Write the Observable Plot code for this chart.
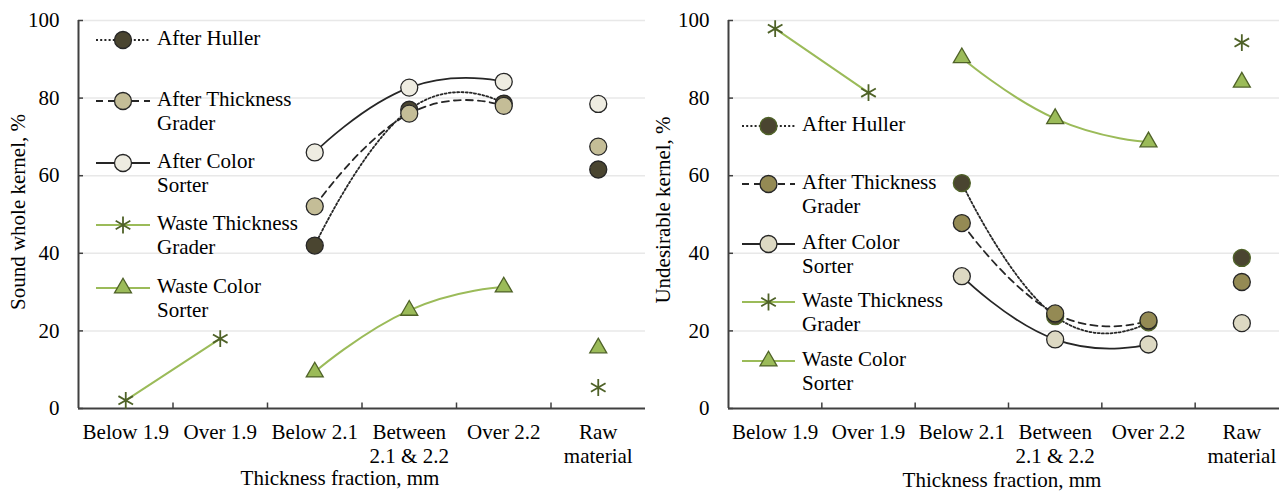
<!DOCTYPE html>
<html>
<head>
<meta charset="utf-8">
<script src="https://cdn.jsdelivr.net/npm/d3@7"></script>
<script src="https://cdn.jsdelivr.net/npm/@observablehq/plot@0.6"></script>
<style>
  html, body { margin: 0; padding: 0; background: #fff; overflow: hidden; }
  #wrap { position: relative; width: 1279px; height: 493px; overflow: hidden; }
  #left, #right { position: absolute; top: 0; width: 645px; height: 493px; }
  #left { left: 0; }
  #right { left: 645px; }
  svg { font-family: "Liberation Serif", "Times New Roman", serif; max-width: none !important; }
</style>
</head>
<body>
<div id="wrap"><div id="left"></div><div id="right"></div></div>
<script>
// ---------- data ----------
const categories = ["Below 1.9", "Over 1.9", "Below 2.1", "Between\n2.1 & 2.2", "Over 2.2", "Raw\nmaterial"];
const yTicks = [0, 20, 40, 60, 80, 100];
const seriesNames = ["After Huller", "After Thickness\nGrader", "After Color\nSorter", "Waste Thickness\nGrader", "Waste Color\nSorter"];
const xTitle = "Thickness fraction, mm";
const leftYTitle = "Sound whole kernel, %";
const rightYTitle = "Undesirable kernel, %";

// Sound whole kernel, %
const soundAfterHuller     = [null, null, 42.0, 77.0, 78.6, 61.6];
const soundAfterThickness  = [null, null, 52.1, 76.0, 78.0, 67.5];
const soundAfterColor      = [null, null, 66.0, 82.7, 84.2, 78.5];
const soundWasteThickness  = [2.1, 18.0, null, null, null, 5.4];
const soundWasteColor      = [null, null, 9.4, 25.3, 31.3, 15.6];

// Undesirable kernel, %
const undesAfterHuller     = [null, null, 58.1, 23.8, 22.2, 38.8];
const undesAfterThickness  = [null, null, 47.8, 24.5, 22.7, 32.6];
const undesAfterColor      = [null, null, 34.1, 17.8, 16.5, 22.0];
const undesWasteThickness  = [97.9, 81.4, null, null, null, 94.3];
const undesWasteColor      = [null, null, 90.4, 74.7, 68.7, 84.1];

// ---------- styles ----------
const FS = 21;
const lineDark = "#262626";
const wasteLine = "#9bbb59";
const wasteStroke = "#4f6228";
const styleDefs = [
  {dash: "2,2.2", line: lineDark, symbol: "circle", r: 8.5},
  {dash: "7,5",   line: lineDark, symbol: "circle", r: 8.5},
  {dash: null,    line: lineDark, symbol: "circle", r: 8.5},
  {dash: null,    line: wasteLine, symbol: "asterisk", r: 8},
  {dash: null,    line: wasteLine, symbol: "triangle", r: 6.3}
];
const leftMarker = [
  {fill: "#4a4530", stroke: lineDark},
  {fill: "#c4bd97", stroke: lineDark},
  {fill: "#eeece1", stroke: lineDark},
  {fill: "none", stroke: wasteStroke},
  {fill: "#9bbb59", stroke: wasteStroke}
];
const rightMarker = [
  {fill: "#4a4530", stroke: "#4f6228"},
  {fill: "#948a54", stroke: lineDark},
  {fill: "#ddd9c3", stroke: lineDark},
  {fill: "none", stroke: wasteStroke},
  {fill: "#9bbb59", stroke: wasteStroke}
];

function pts(vals, maxIdx) {
  return vals.slice(0, maxIdx).map((v, i) => ({x: i + 0.5, y: v == null ? NaN : v}));
}

function makePanel({series, markers, ml, mr, yTitle, yTitleX, yTitleY, xTitleX, xTitleY, legend}) {
  const W = 645, H = 493, mt = 20, mb = 85;
  const pxPerX = (W - ml - mr) / 6;
  const pxPerY = (H - mt - mb) / 100;
  const marks = [
    Plot.gridY(yTicks.filter(d => d > 0), {stroke: "#e8e8e8", strokeOpacity: 1, strokeWidth: 1.5}),
    Plot.axisY(yTicks, {tickSize: 0, tickPadding: 19, label: null, fontSize: FS, fill: "#000"}),
    Plot.axisX(categories.map((c, i) => i + 0.5), {
      tickSize: 0, tickPadding: 13, label: null, fontSize: FS, lineHeight: 1.15, fill: "#000",
      tickFormat: d => categories[Math.round(d - 0.5)]
    }),
    Plot.ruleY(yTicks, {x1: 0, x2: 5 / pxPerX, stroke: "#404040", strokeWidth: 1.5}),
    Plot.ruleX([1, 2, 3, 4, 5], {y1: 0, y2: 5.5 / pxPerY, stroke: "#404040", strokeWidth: 1.5}),
    Plot.ruleX([0], {stroke: "#404040", strokeWidth: 2}),
    Plot.ruleY([0], {stroke: "#404040", strokeWidth: 2})
  ];
  series.forEach((vals, k) => {
    const s = styleDefs[k];
    marks.push(Plot.line(pts(vals, 5), {
      x: "x", y: "y", curve: "cardinal", tension: -0.5, stroke: s.line,
      strokeWidth: k >= 3 ? 2 : 1.8, strokeDasharray: s.dash
    }));
  });
  series.forEach((vals, k) => {
    const s = styleDefs[k], m = markers[k];
    const data = pts(vals, 6).filter(d => !isNaN(d.y));
    marks.push(Plot.dot(data, {
      x: "x", y: "y", r: s.r, symbol: s.symbol, fill: m.fill, stroke: m.stroke,
      strokeWidth: k === 3 ? 1.8 : 1.3
    }));
  });
  const svg = Plot.plot({
    width: W, height: H, marginTop: mt, marginBottom: mb, marginLeft: ml, marginRight: mr,
    x: {type: "linear", domain: [0, 6], axis: null},
    y: {domain: [0, 100], axis: null},
    style: {fontFamily: '"Liberation Serif", "Times New Roman", serif', fontSize: FS + "px", color: "#000", background: "#fff", overflow: "visible", maxWidth: "none"},
    marks
  });
  const g = d3.select(svg);
  g.append("text").attr("x", xTitleX).attr("y", xTitleY).attr("text-anchor", "middle")
    .attr("dominant-baseline", "middle").attr("font-size", FS).attr("fill", "#000").text(xTitle);
  g.append("text").attr("transform", `translate(${yTitleX},${yTitleY}) rotate(-90)`)
    .attr("text-anchor", "middle").attr("dominant-baseline", "middle")
    .attr("font-size", FS).attr("fill", "#000").text(yTitle);
  // legend
  const lg = g.append("g").attr("text-anchor", "start");
  seriesNames.forEach((name, k) => {
    const y = legend.ys[k], s = styleDefs[k], m = markers[k];
    lg.append("line").attr("x1", legend.x0).attr("x2", legend.x1).attr("y1", y).attr("y2", y)
      .attr("stroke", s.line).attr("stroke-width", k >= 3 ? 2 : 1.8)
      .attr("stroke-dasharray", s.dash);
    const sym = {circle: d3.symbolCircle, asterisk: d3.symbolAsterisk, triangle: d3.symbolTriangle}[s.symbol];
    lg.append("path").attr("transform", `translate(${(legend.x0 + legend.x1) / 2},${y})`)
      .attr("d", d3.symbol(sym, Math.PI * s.r * s.r)())
      .attr("fill", m.fill).attr("stroke", m.stroke).attr("stroke-width", k === 3 ? 1.8 : 1.3);
    name.split("\n").forEach((t, j) => {
      lg.append("text").attr("x", legend.tx).attr("y", y + j * 24.5)
        .attr("text-anchor", "start")
        .attr("dominant-baseline", "middle").attr("font-size", FS).attr("fill", "#000").text(t);
    });
  });
  return svg;
}

document.getElementById("left").appendChild(makePanel({
  series: [soundAfterHuller, soundAfterThickness, soundAfterColor, soundWasteThickness, soundWasteColor],
  markers: leftMarker, ml: 78, mr: 0,
  yTitle: leftYTitle, yTitleX: 20, yTitleY: 212,
  xTitleX: 340, xTitleY: 480,
  legend: {x0: 96, x1: 150, tx: 157, ys: [40, 101, 163, 225, 288]}
}));
document.getElementById("right").appendChild(makePanel({
  series: [undesAfterHuller, undesAfterThickness, undesAfterColor, undesWasteThickness, undesWasteColor],
  markers: rightMarker, ml: 83, mr: 2,
  yTitle: rightYTitle, yTitleX: 20, yTitleY: 210,
  xTitleX: 1002 - 645, xTitleY: 482,
  legend: {x0: 742 - 645, x1: 795 - 645, tx: 802 - 645, ys: [126, 184, 244, 302, 361]}
}));
</script>
</body>
</html>
